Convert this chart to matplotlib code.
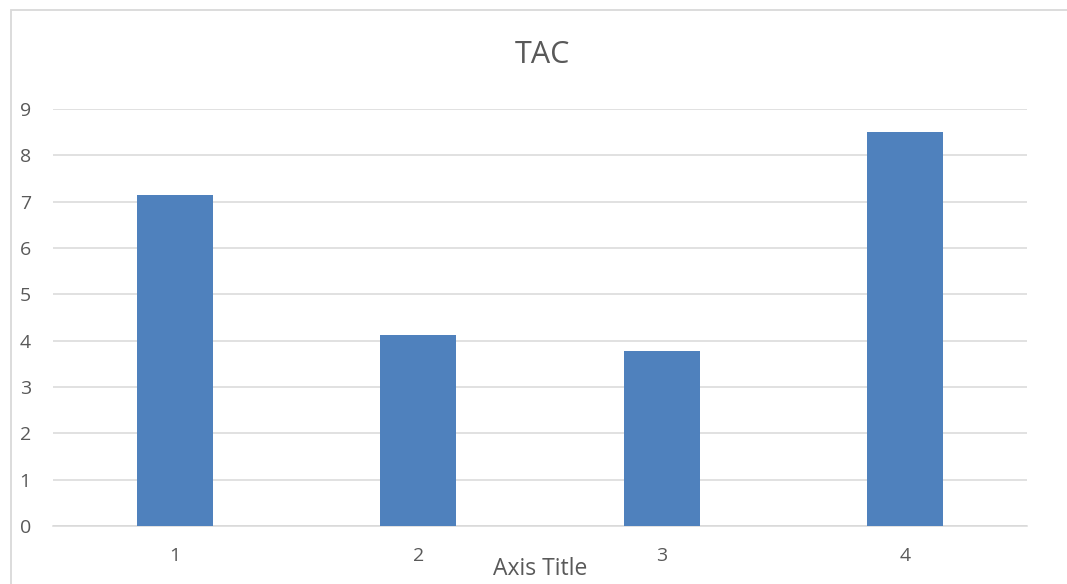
import matplotlib.pyplot as plt
from matplotlib.patches import Rectangle

# TAC values per category
categories = ['1', '2', '3', '4']
tac_values = [7.14, 4.12, 3.77, 8.50]

plt.rcParams['font.family'] = ['Open Sans', 'DejaVu Sans']

W, H = 1067, 584
fig = plt.figure(figsize=(W / 100, H / 100), dpi=100)
fig.patch.set_facecolor('white')

# chart area border (runs off the right and bottom edge)
fig.patches.append(Rectangle((11 / W, -0.1), 1.2, 1 - 10 / H + 0.1,
                             transform=fig.transFigure, fill=False,
                             edgecolor='#d9d9d9', linewidth=1.3))

ax = fig.add_axes([53 / W, 1 - 526 / H, (1027 - 53) / W, (526 - 109) / H])
x = list(range(1, len(categories) + 1))
ax.bar(x, tac_values, width=0.312, color='#4f81bd', zorder=3)

ax.set_xlim(0.5, len(categories) + 0.5)
ax.set_ylim(0, 9)
ax.set_yticks(range(0, 10))
ax.set_xticks(x)
ax.set_xticklabels(categories)

ax.grid(axis='y', color='#d9d9d9', linewidth=1.1, zorder=0)
ax.set_axisbelow(True)
for side in ['top', 'right', 'left']:
    ax.spines[side].set_visible(False)
ax.spines['bottom'].set_color('#d9d9d9')
ax.spines['bottom'].set_linewidth(1.1)
ax.tick_params(axis='both', length=0, labelsize=14, labelcolor='#595959')
ax.tick_params(axis='y', pad=16)
ax.tick_params(axis='x', pad=15)

fig.text(542 / W, 1 - 55 / H, 'TAC', ha='center', va='center',
         fontsize=22, color='#595959')
fig.text(540 / W, 1 - 569 / H, 'Axis Title', ha='center', va='center',
         fontsize=16.5, color='#595959')

fig.savefig('out.png', dpi=100, facecolor='white')
